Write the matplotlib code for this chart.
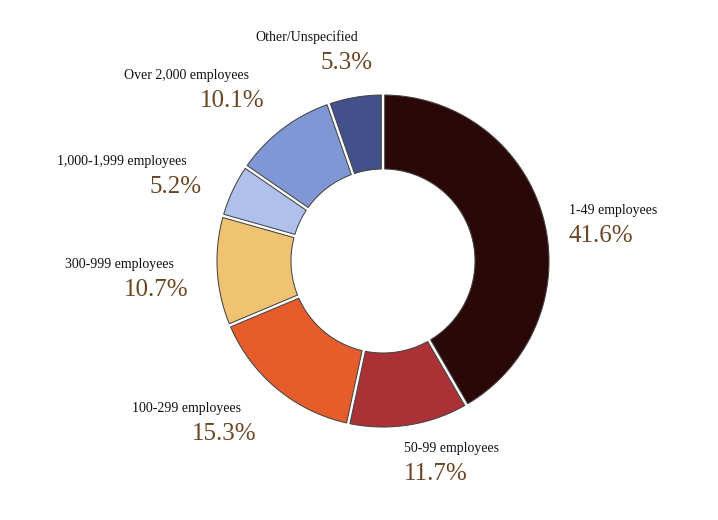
import numpy as np
import matplotlib
matplotlib.use("Agg")
import matplotlib.pyplot as plt
from matplotlib.patches import Polygon

categories = ["1-49 employees", "50-99 employees", "100-299 employees",
              "300-999 employees", "1,000-1,999 employees",
              "Over 2,000 employees", "Other/Unspecified"]
values = [41.6, 11.7, 15.3, 10.7, 5.2, 10.1, 5.3]
colors = ["#2a0807", "#aa3236", "#e65c2a", "#f0c373",
          "#afc0ec", "#7f97d4", "#42508c"]

W, H = 718, 520
fig = plt.figure(figsize=(W / 100, H / 100), dpi=100)
ax = fig.add_axes([0, 0, 1, 1])

cx, cy = 383, 259
R = 166
r_in = 92
gap = 3.4

wedges, _ = ax.pie(values, colors=colors, startangle=90, counterclock=False,
                   radius=R, center=(cx, cy),
                   wedgeprops=dict(width=R - r_in, linewidth=0),
                   frame=True)
ax.set_xlim(0, W)
ax.set_ylim(0, H)
ax.set_aspect("equal")
ax.axis("off")

# redraw each slice with a constant-width gap between neighbours
d_out = np.rad2deg(np.arcsin(gap / 2 / R))
d_in = np.rad2deg(np.arcsin(gap / 2 / r_in))
for w in wedges:
    t1, t2 = min(w.theta1, w.theta2), max(w.theta1, w.theta2)
    a_out = np.deg2rad(np.linspace(t1 + d_out, t2 - d_out, 200))
    a_in = np.deg2rad(np.linspace(t2 - d_in, t1 + d_in, 200))
    xs = np.concatenate([cx + R * np.cos(a_out), cx + r_in * np.cos(a_in)])
    ys = np.concatenate([cy + R * np.sin(a_out), cy + r_in * np.sin(a_in)])
    ax.add_patch(Polygon(np.column_stack([xs, ys]), closed=True,
                         facecolor=w.get_facecolor(), edgecolor="#454545",
                         linewidth=0.75))
    w.set_visible(False)

serif = ["Liberation Serif", "DejaVu Serif"]
pct_color = "#6b4624"
lab_r = 1.24 * 165
# small layout nudges (pixels, x right / y up) to mimic the reference label placement
nudges = [(-12, -20), (-11, -3), (4, -7), (10, -8), (4, -5), (5, 5), (24, 4)]
for w, name, v, (nx, ny) in zip(wedges, categories, values, nudges):
    mid = np.deg2rad((w.theta1 + w.theta2) / 2)
    x = cx + lab_r * np.cos(mid) + nx
    y = cy + lab_r * np.sin(mid) + ny
    if np.cos(mid) >= 0:
        ax.text(x, y + 14, name, ha="left", va="baseline", fontsize=10,
                family=serif, color="#111111")
        ax.text(x, y - 14, f"{v:.1f}%", ha="left", va="baseline", fontsize=18,
                family=serif, color=pct_color)
    else:
        ax.text(x - 15, y + 14, name, ha="right", va="baseline", fontsize=10,
                family=serif, color="#111111")
        ax.text(x, y - 14, f"{v:.1f}%", ha="right", va="baseline", fontsize=18,
                family=serif, color=pct_color)

fig.savefig("out.png", dpi=100, facecolor="white")
